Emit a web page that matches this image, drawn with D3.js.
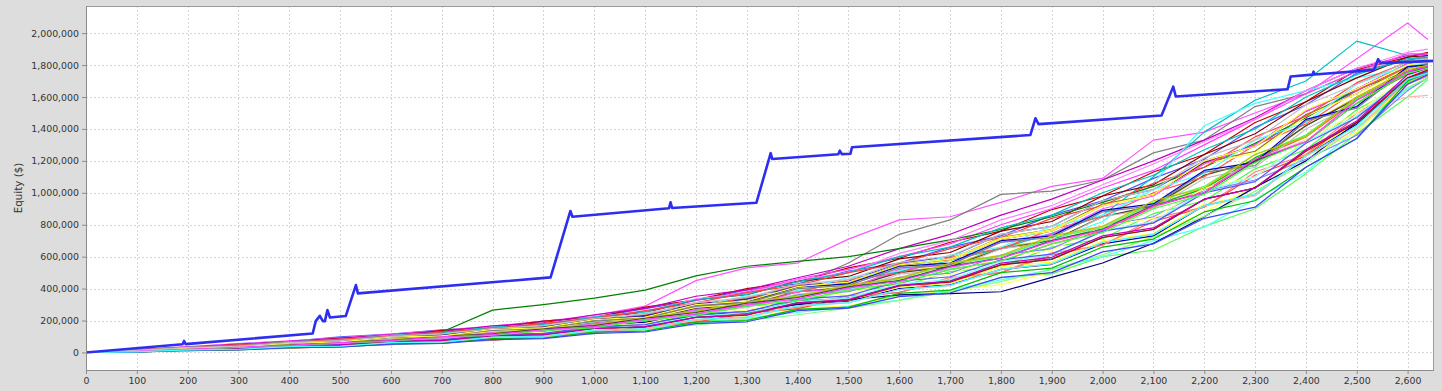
<!DOCTYPE html>
<html>
<head>
<meta charset="utf-8">
<script src="https://cdn.jsdelivr.net/npm/d3@7"></script>
<style>
  body { margin: 0; background: #dddddd; }
  svg { display: block; }
  .axis text { font-family: "DejaVu Sans", sans-serif; font-size: 9.4px; fill: #333; }
  .axis path, .axis line { stroke: #8c8c8c; }
  .grid line { stroke: #d6d6d6; stroke-dasharray: 2,2; }
</style>
</head>
<body>
<script>
// Trade numbers where every simulated run is sampled
const runTrades = [0,100,200,300,400,500,600,700,800,900,1000,1100,1200,1300,1400,1500,1600,1700,1800,1900,2000,2100,2200,2300,2400,2500,2600,2640];

// Simulated equity runs, in thousands of $
const mcRuns = [
  [0,12,20,33,41,60,71,95,108,140,152,199,236,292,318,390,430,520,570,680,760,910,1010,1210,1350,1580,1740,1780],
  [0,18,34,56,70,98,115,142,160,196,220,275,326,392,430,510,560,660,730,860,950,1090,1210,1410,1550,1750,1830,1860],
  [0,3,14,17,34,38,60,65,92,98,134,142,196,206,270,284,360,378,468,492,600,640,790,900,1120,1370,1600,1710],
  [0,4,14,18,34,40,60,68,92,104,136,158,200,226,276,292,350,390,425,505,610,730,880,1040,1240,1440,1690,1745],
  [0,18,36,54,72,92,115,138,165,195,232,290,450,530,560,710,830,850,940,1040,1090,1330,1380,1500,1620,1840,2063,1960],
  [0,6,13,21,30,42,55,70,86,104,125,150,180,214,250,288,328,390,455,520,600,700,785,960,1130,1400,1650,1720],
  [0,12,22,40,50,70,84,110,124,156,176,224,262,324,360,424,470,550,600,712,790,925,1030,1200,1330,1500,1600,1610],
  [0,13,27,42,58,76,96,118,142,168,200,240,292,340,420,560,740,830,990,1010,1080,1250,1330,1540,1620,1760,1830,1850],
  [0,16,30,50,64,90,104,138,156,196,220,284,330,400,444,530,590,690,760,895,980,1130,1240,1440,1570,1770,1850,1880],
  [0,6,20,24,42,48,70,76,106,114,154,164,224,238,304,322,400,424,520,552,680,730,920,990,1230,1430,1700,1770],
  [0,11,21,38,48,68,80,108,120,156,170,224,256,318,346,414,452,540,590,700,776,920,1026,1220,1360,1590,1750,1790],
  [0,10,28,34,56,64,92,100,136,146,196,210,282,300,384,408,508,540,660,700,850,910,1110,1190,1420,1600,1760,1800],
  [0,16,34,48,70,86,112,130,166,186,236,276,352,392,468,540,650,740,860,960,1080,1200,1330,1470,1640,1780,1860,1870],
  [0,12,26,40,56,72,92,112,136,162,192,234,286,336,386,442,506,576,652,746,860,1100,1380,1580,1700,1950,1860,1840],
  [0,7,26,30,54,60,90,98,134,144,190,204,276,296,380,406,500,536,650,700,850,920,1110,1200,1420,1590,1750,1790],
  [0,5,10,20,26,40,48,68,76,104,120,162,190,246,274,342,376,458,500,610,676,820,910,1110,1230,1480,1680,1750],
  [0,8,28,32,58,64,96,104,144,154,204,218,296,316,420,446,560,600,740,790,950,1020,1200,1290,1480,1640,1790,1810],
  [0,9,18,32,40,60,68,96,104,140,150,204,224,292,310,390,410,506,536,660,712,870,950,1150,1270,1520,1690,1730],
  [0,4,18,22,40,44,70,74,106,112,152,160,222,236,310,326,410,432,536,566,700,746,930,990,1230,1380,1700,1760],
  [0,14,30,44,64,80,106,122,156,172,220,250,326,380,460,520,600,680,800,900,1030,1140,1300,1460,1620,1760,1870,1870],
  [0,10,21,33,46,61,78,97,118,142,170,206,250,296,344,398,458,526,606,700,820,1060,1420,1560,1640,1720,1780,1800],
  [0,7,24,28,50,56,84,90,124,132,178,190,262,280,366,386,490,520,650,690,850,900,1090,1160,1400,1560,1750,1780],
  [0,14,30,44,64,80,106,120,156,172,222,250,330,362,446,476,586,626,760,820,980,1050,1240,1370,1570,1720,1850,1860],
  [0,10,21,33,46,60,76,94,114,136,160,190,224,262,300,330,360,368,380,470,560,684,850,1034,1200,1440,1700,1750],
  [0,14,30,44,60,80,100,128,265,300,340,390,480,540,570,600,650,705,770,850,940,1040,1160,1310,1470,1650,1760,1800],
  [0,9,26,30,54,60,90,98,138,148,200,214,292,312,410,436,550,584,720,770,930,990,1190,1260,1490,1620,1790,1800],
  [0,13,28,40,60,72,98,112,146,160,206,234,304,334,414,440,544,578,710,760,920,990,1190,1300,1510,1650,1810,1830],
  [0,5,20,24,42,48,72,78,108,116,156,168,230,246,320,340,420,448,550,586,720,770,960,1030,1270,1440,1710,1760],
  [0,7,14,26,32,50,56,82,88,122,130,180,200,264,282,356,374,470,500,624,670,840,910,1130,1240,1500,1680,1730],
  [0,11,24,34,50,60,84,94,126,138,180,200,264,288,360,380,470,496,610,650,790,850,1010,1080,1210,1360,1640,1720],
  [0,6,13,20,29,39,51,64,80,98,118,145,172,200,236,278,326,380,444,520,612,722,852,1010,1190,1410,1660,1720],
  [0,6,20,24,44,50,76,82,116,124,168,180,248,264,346,366,460,488,600,640,790,840,1030,1100,1330,1500,1730,1770],
  [0,15,32,44,66,80,108,122,158,176,224,256,336,370,456,500,620,700,830,920,1050,1180,1320,1460,1640,1780,1880,1900],
  [0,8,18,26,40,48,68,78,104,114,150,170,226,250,318,340,430,456,570,610,760,820,1010,1100,1320,1480,1730,1770],
  [0,13,24,42,52,74,86,116,130,168,186,240,280,346,376,456,496,596,650,770,850,1000,1100,1300,1430,1640,1790,1820],
  [0,5,20,24,44,50,74,80,112,120,162,174,240,256,334,354,446,474,580,616,760,810,1000,1070,1310,1470,1720,1760],
  [0,12,22,38,50,68,82,108,122,156,174,224,258,320,352,424,460,556,600,720,780,940,1040,1240,1360,1590,1750,1790],
  [0,8,24,28,52,58,88,96,134,144,194,208,284,304,400,424,540,576,710,760,920,980,1180,1250,1480,1620,1780,1800],
  [0,10,22,30,48,56,82,90,124,134,180,196,270,290,380,400,520,550,690,740,900,980,1180,1300,1510,1650,1810,1830],
  [0,14,26,46,56,82,92,124,136,176,192,250,286,356,386,470,510,610,660,790,860,1020,1120,1330,1440,1680,1800,1810],
  [0,3,16,19,34,38,60,64,92,98,136,144,204,218,292,310,394,418,522,554,690,740,920,980,1230,1400,1700,1740],
  [0,12,26,36,56,66,92,102,138,150,196,216,290,310,400,420,530,550,690,720,880,920,1130,1170,1450,1530,1780,1810],
  [0,4,18,22,40,44,68,72,104,110,150,158,220,234,310,328,416,440,548,582,720,770,960,1030,1260,1440,1720,1770],
  [0,13,28,38,58,70,96,108,144,158,206,226,300,320,410,430,540,560,700,730,890,930,1140,1190,1460,1540,1790,1800],
  [0,2,14,16,30,33,54,57,86,90,128,134,190,200,270,284,370,390,500,528,660,710,880,950,1160,1340,1700,1750],
  [0,11,22,36,48,66,80,104,120,150,172,220,256,316,350,420,464,560,608,730,790,950,1030,1240,1350,1600,1770,1800],
  [0,5,20,24,42,48,70,76,104,112,150,162,220,236,310,330,420,446,560,596,730,780,960,1030,1270,1450,1740,1780],
  [0,15,32,44,66,80,106,124,158,176,222,256,330,364,444,500,600,660,780,860,1000,1110,1270,1400,1600,1740,1840,1850],
  [0,12,20,36,46,64,76,100,116,148,168,214,250,308,344,410,450,540,590,700,770,920,1000,1200,1320,1560,1750,1790],
  [0,16,30,48,62,84,100,128,150,182,212,262,310,376,420,500,556,650,720,840,920,1060,1160,1350,1480,1690,1820,1840],
  [0,2,14,16,30,34,52,56,80,86,120,128,180,192,262,278,350,372,470,500,630,680,840,910,1160,1340,1680,1740],
  [0,10,18,32,42,58,70,94,108,136,156,200,234,290,326,390,436,520,574,680,750,900,990,1190,1320,1560,1750,1780],
  [0,9,28,34,58,66,96,104,144,156,206,222,300,322,412,440,548,584,716,768,920,990,1200,1290,1520,1650,1800,1820],
  [0,11,20,34,44,62,74,98,112,142,162,208,242,300,336,404,446,534,590,696,766,916,1000,1210,1320,1580,1760,1790],
  [0,3,16,20,36,40,62,66,96,102,140,150,208,222,292,312,394,420,520,556,690,740,920,990,1230,1420,1710,1750],
  [0,14,30,40,62,74,100,116,150,168,214,240,312,344,426,456,564,604,740,790,950,1020,1220,1330,1550,1680,1820,1840]
];

// Actual (original order) equity curve
const baseTrades = [0,190,193,196,446,452,460,466,470,475,480,511,531,535,914,953,957,1147,1150,1153,1319,1347,1350,1480,1483,1487,1504,1507,1858,1868,1874,2116,2139,2144,2364,2370,2413,2415,2417,2534,2542,2547,2652];
const baseEquity = [0,51000,72000,52000,119000,196000,229000,196000,196000,265000,219000,228000,422000,370000,470000,886000,850000,903000,940000,905000,938000,1248000,1212000,1241000,1264000,1242000,1245000,1285000,1362000,1467000,1430000,1484000,1665000,1603000,1649000,1728000,1740000,1759000,1741000,1770000,1837000,1812000,1826000];

const seriesColors = [
  "#ff5555","#5555ff","#55ff55","#ffff55","#ff55ff","#55ffff","#ffafaf","#808080",
  "#c00000","#0000c0","#00c000","#c0c000","#c000c0","#00c0c0","#404040","#ff4040",
  "#4040ff","#40ff40","#ffff40","#ff40ff","#40ffff","#c0c0c0","#800000","#000080",
  "#008000","#808000","#800080","#008080","#ff8080","#8080ff","#80ff80","#ffff80",
  "#ff80ff","#80ffff"
];

const yTicks = [0,200000,400000,600000,800000,1000000,1200000,1400000,1600000,1800000,2000000];
const xTicks = d3.range(0, 2601, 100);

const W = 1442, H = 391;
const margin = {top: 6, right: 8, bottom: 21, left: 86};
const width = W - margin.left - margin.right;
const height = H - margin.top - margin.bottom;

const svg = d3.select("body").append("svg")
  .attr("width", W)
  .attr("height", H);

const g = svg.append("g")
  .attr("transform", `translate(${margin.left},${margin.top})`);

const x = d3.scaleLinear().domain([0, 2652]).range([0, width]);
const y = d3.scaleLinear().domain([-110000, 2170000]).range([height, 0]);

g.append("rect")
  .attr("width", width)
  .attr("height", height)
  .attr("fill", "#fff");

g.append("defs").append("clipPath").attr("id", "plotClip")
  .append("rect").attr("width", width).attr("height", height);

// grid
const grid = g.append("g").attr("class", "grid");
grid.selectAll(".gx").data(xTicks).enter().append("line")
  .attr("x1", d => Math.round(x(d)) + 0.5).attr("x2", d => Math.round(x(d)) + 0.5)
  .attr("y1", 0).attr("y2", height);
grid.selectAll(".gy").data(yTicks).enter().append("line")
  .attr("y1", d => Math.round(y(d)) + 0.5).attr("y2", d => Math.round(y(d)) + 0.5)
  .attr("x1", 0).attr("x2", width);

// runs
const lines = g.append("g").attr("clip-path", "url(#plotClip)");
const runLine = d3.line()
  .x((d, i) => x(runTrades[i]))
  .y(d => y(d * 1000));

lines.selectAll(".run").data(mcRuns).enter().append("path")
  .attr("class", "run")
  .attr("fill", "none")
  .attr("stroke", (d, i) => seriesColors[i % seriesColors.length])
  .attr("stroke-width", 1.2)
  .attr("stroke-linejoin", "round")
  .attr("d", runLine);

const baseLine = d3.line()
  .x((d, i) => x(baseTrades[i]))
  .y(d => y(d));

lines.append("path")
  .datum(baseEquity)
  .attr("fill", "none")
  .attr("stroke", "#2e2ef0")
  .attr("stroke-width", 2.6)
  .attr("stroke-linejoin", "round")
  .attr("d", baseLine);

// outline
g.append("rect")
  .attr("x", 0.5).attr("y", 0.5)
  .attr("width", width - 1).attr("height", height)
  .attr("fill", "none")
  .attr("stroke", "#9a9a9a");

// axes
const xAxis = d3.axisBottom(x).tickValues(xTicks).tickFormat(d3.format(",")).tickSize(4).tickPadding(3);
const yAxis = d3.axisLeft(y).tickValues(yTicks).tickFormat(d3.format(",")).tickSize(4).tickPadding(3);

g.append("g").attr("class", "axis")
  .attr("transform", `translate(0,${height})`)
  .call(xAxis)
  .call(a => a.select(".domain").attr("d", `M0,0.5H${width}`));

g.append("g").attr("class", "axis")
  .call(yAxis)
  .call(a => a.select(".domain").attr("d", `M0.5,0V${height}`));

svg.append("text")
  .attr("transform", `translate(22,${margin.top + height / 2}) rotate(-90)`)
  .attr("text-anchor", "middle")
  .attr("font-family", "DejaVu Sans, sans-serif")
  .attr("font-size", "10.3px")
  .attr("fill", "#333")
  .text("Equity ($)");
</script>
</body>
</html>
